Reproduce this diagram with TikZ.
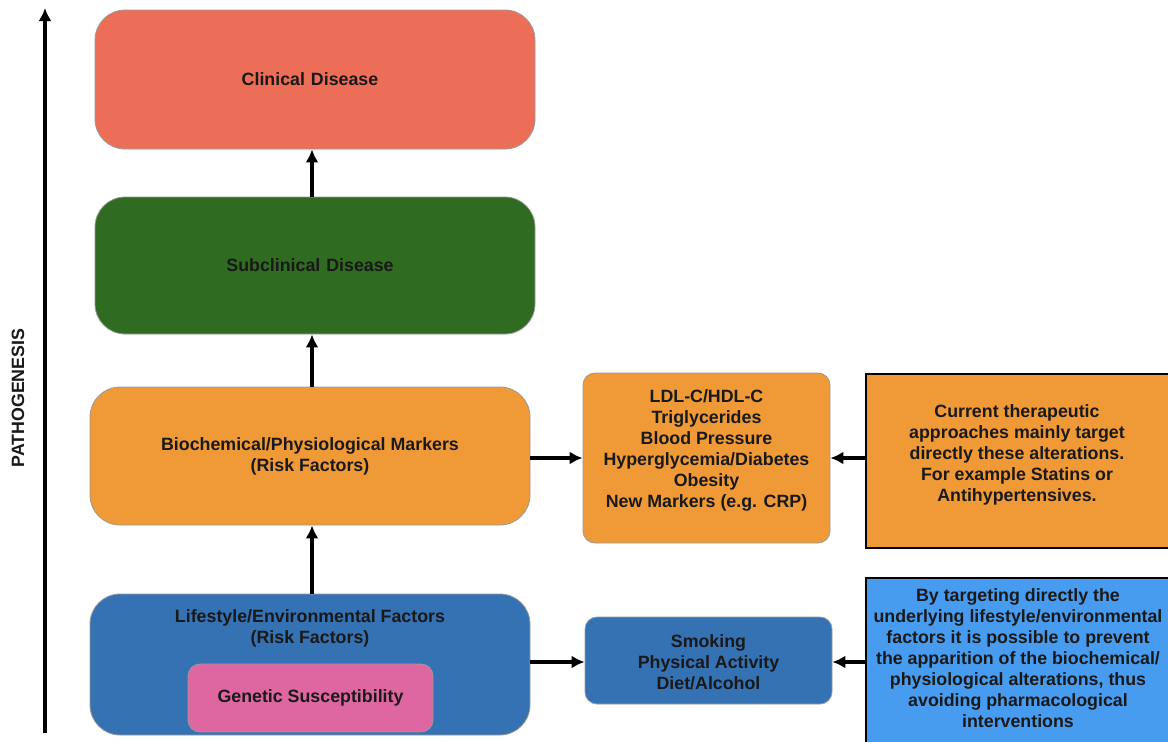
\documentclass[tikz,border=0pt]{standalone}
\usepackage{fontspec}
\setmainfont{Liberation Sans}
\usetikzlibrary{arrows.meta}
\definecolor{cred}{HTML}{EC6E57}
\definecolor{cgreen}{HTML}{2F6B20}
\definecolor{corange}{HTML}{EF9A36}
\definecolor{cblue}{HTML}{3472B3}
\definecolor{cpink}{HTML}{DE67A2}
\definecolor{clight}{HTML}{479CF0}
\definecolor{cedge}{HTML}{9A9A9A}
\tikzset{
  fnt/.style={font=\bfseries\fontsize{17.8}{21}\selectfont, text=black!90},
  bigbox/.style={fnt, draw=cedge, line width=0.8pt, rounded corners=30pt, minimum width=440pt, align=center},
  smallbox/.style={fnt, draw=cedge, line width=0.8pt, rounded corners=12pt, align=center},
  notebox/.style={fnt, draw=black, line width=1.5pt, minimum width=304pt, align=center},
  conn/.style={line width=3.2pt, -{Latex[length=13pt,width=13pt]}},
  txt/.style={fnt, align=center}
}
\begin{document}
\begin{tikzpicture}[x=1pt,y=-1pt]
\useasboundingbox (0,0) rectangle (1168,742);
\fill[white] (0,0) rectangle (1168,742);
% axis
\coordinate (ax0) at (45,733);
\coordinate (ax1) at (45,8);
\draw[conn] (ax0) -- (ax1);
\node[txt, rotate=90] (path) at (18,398) {PATHOGENESIS};
% main boxes
\node[bigbox, fill=cred, minimum height=139pt, text width=420pt] (clin) at (315,79.5) {\hspace*{-10pt}Clinical Disease};
\node[bigbox, fill=cgreen, minimum height=137pt, text width=420pt] (sub) at (315,265.5) {\hspace*{-10pt}Subclinical Disease};
\node[bigbox, fill=corange, minimum height=138pt] (bio) at (310,456) {Biochemical/Physiological Markers\\(Risk Factors)};
\node[bigbox, fill=cblue, minimum height=141pt] (life) at (310,664.5) {};
\node[txt] (lifetxt) at (310,628.5) {Lifestyle/Environmental Factors\\(Risk Factors)};
\node[smallbox, fill=cpink, minimum width=245pt, minimum height=68pt] (gen) at (310.5,698) {Genetic Susceptibility};
% right column
\node[smallbox, fill=corange, minimum width=247pt, minimum height=170pt] (ldl) at (706.5,458) {};
\node[txt] (ldltxt) at (706.5,450) {LDL-C/HDL-C\\Triglycerides\\Blood Pressure\\Hyperglycemia/Diabetes\\Obesity\\New Markers (e.g. CRP)};
\node[smallbox, fill=cblue, minimum width=247pt, minimum height=87pt] (smk) at (708.5,660.5) {};
\node[txt] (smktxt) at (708.5,662.5) {Smoking\\Physical Activity\\Diet/Alcohol};
\node[notebox, fill=corange, minimum height=174pt] (ther) at (1018,461) {};
\node[txt] (thertxt) at (1017,455) {Current therapeutic\\approaches mainly target\\directly these alterations.\\For example Statins or\\Antihypertensives.};
\node[notebox, fill=clight, minimum height=166pt] (targ) at (1018,661) {};
\node[txt] (targtxt) at (1018,658) {By targeting directly the\\underlying lifestyle/environmental\\factors it is possible to prevent\\the apparition of the biochemical/\\physiological alterations, thus\\avoiding pharmacological\\interventions};
% connectors
\draw[conn] (sub.north -| 312,0) -- (clin.south -| 312,0);
\draw[conn] (bio.north -| 312,0) -- (sub.south -| 312,0);
\draw[conn] (life.north -| 312,0) -- (bio.south -| 312,0);
\draw[conn] (bio.east |- 0,458) -- (ldl.west |- 0,458);
\draw[conn] (ther.west |- 0,458) -- (ldl.east |- 0,458);
\draw[conn] (life.east |- 0,662) -- (smk.west |- 0,662);
\draw[conn] (targ.west |- 0,662) -- (smk.east |- 0,662);
\end{tikzpicture}
\end{document}
